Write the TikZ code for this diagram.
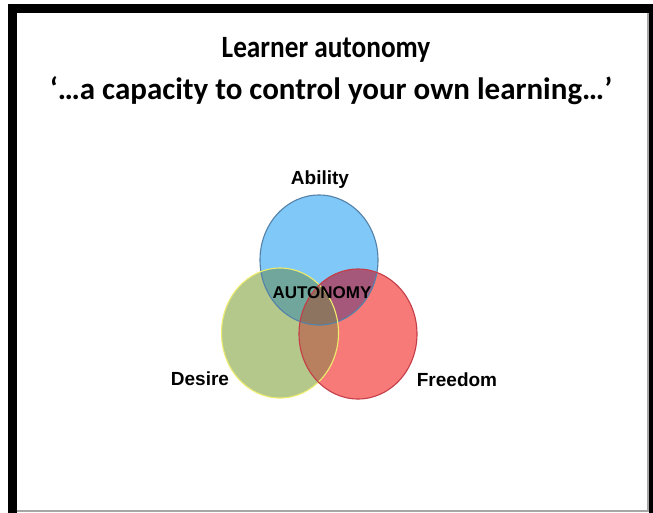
\documentclass[tikz,border=0pt]{standalone}
\usepackage{fontspec}
\setmainfont{Liberation Sans}
\newfontfamily\slidefont{Carlito}
\newfontfamily\headfont[FakeStretch=0.88]{Carlito}
\usepackage{tikz}
\usetikzlibrary{positioning}

\definecolor{abilityfill}{RGB}{128,200,248}
\definecolor{abilityline}{RGB}{84,130,168}
\definecolor{desirefill}{RGB}{180,200,140}
\definecolor{desireline}{RGB}{238,236,110}
\definecolor{freedomfill}{RGB}{248,122,120}
\definecolor{freedomline}{RGB}{196,62,72}
\definecolor{abdes}{RGB}{112,166,156}
\definecolor{abfree}{RGB}{166,88,122}
\definecolor{desfree}{RGB}{184,128,94}
\definecolor{allthree}{RGB}{140,116,96}

% the three sets, in pixel units
\def\abilityset{(319,260) ellipse [x radius=59, y radius=65]}
\def\desireset{(280,333) ellipse [x radius=58.5, y radius=65]}
\def\freedomset{(358,334) ellipse [x radius=59, y radius=65]}

\tikzset{
  heading/.style={font=\headfont\bfseries\fontsize{31}{36}\selectfont},
  quote/.style={font=\slidefont\bfseries\fontsize{31}{35}\selectfont},
  setlabel/.style={font=\bfseries\fontsize{19}{22}\selectfont, inner sep=0pt},
  core/.style={font=\bfseries\fontsize{17}{20}\selectfont, inner sep=0pt},
  rim/.style={line width=1.1pt},
}

\begin{document}
\begin{tikzpicture}[x=1pt, y=-1pt]
  \useasboundingbox (0,0) rectangle (653,512);
  \clip (0,0) rectangle (653,512);
  \fill[white] (0,0) rectangle (653,512);
  % slide frame
  \draw[black!35, line width=1.5pt] (17,511) -- (648,511) -- (648,13);
  \draw[black, line width=9pt] (12.5,520) -- (12.5,8.5) -- (660,8.5);
  \draw[black, line width=9pt] (653.5,8.5) -- (653.5,520);

  % headings
  \node[heading] (title) at (326,50) {Learner autonomy};
  \node[quote] (quote) at (331,91) {‘…a capacity to control your own learning…’};

  % the three sets
  \fill[abilityfill] \abilityset;
  \fill[desirefill] \desireset;
  \fill[freedomfill] \freedomset;
  % pairwise overlaps
  \begin{scope}
    \clip \abilityset;
    \fill[abdes] \desireset;
  \end{scope}
  \begin{scope}
    \clip \abilityset;
    \fill[abfree] \freedomset;
  \end{scope}
  \begin{scope}
    \clip \desireset;
    \fill[desfree] \freedomset;
  \end{scope}
  % centre
  \begin{scope}
    \clip \abilityset;
    \clip \desireset;
    \fill[allthree] \freedomset;
  \end{scope}
  % outlines
  \draw[rim, abilityline] \abilityset;
  \draw[rim, desireline] \desireset;
  \draw[rim, freedomline] \freedomset;

  % labels
  \node[setlabel] (ability) at (320,180) {Ability};
  \node[setlabel] (desire) at (200,379) {Desire};
  \node[setlabel] (freedom) at (457,380) {Freedom};
  \node[core] (autonomy) at (322,293) {AUTONOMY};
\end{tikzpicture}
\end{document}
